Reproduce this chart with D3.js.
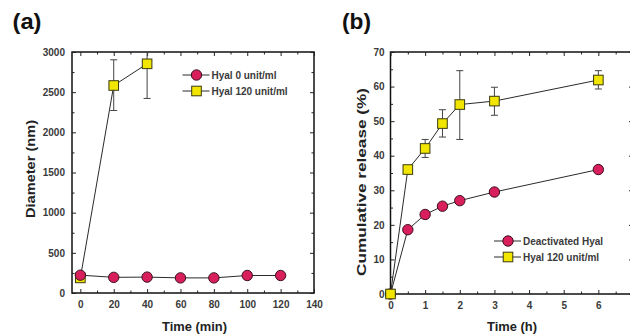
<!DOCTYPE html>
<html><head><meta charset="utf-8">
<script src="https://cdn.jsdelivr.net/npm/d3@7"></script>
<style>body{margin:0;background:#fff}svg{display:block}text{font-family:"Liberation Sans",Arial,sans-serif}</style>
</head><body><div id="c"></div>
<script>
// Panel (a)
const timeMin = [0, 20, 40, 60, 80, 100, 120];
const hyal0 = [222, 195, 198, 188, 188, 218, 218];
const timeMin120 = [0, 20, 40];
const hyal120 = [188, 2583, 2853];
const hyal120Lo = [188, 2272, 2422];
const hyal120Hi = [188, 2903, 3300];
const xTicksA = [0, 20, 40, 60, 80, 100, 120, 140];
const yTicksA = [0, 500, 1000, 1500, 2000, 2500, 3000];
// Panel (b)
const timeH = [0, 0.5, 1, 1.5, 2, 3, 6];
const deact = [0, 18.6, 23, 25.4, 27, 29.5, 36];
const rel120 = [0, 36, 42.1, 49.3, 54.8, 55.8, 61.9];
const rel120Lo = [0, 35, 39.5, 45.4, 44.7, 51.7, 59.3];
const rel120Hi = [0, 37.2, 44.7, 53.3, 64.6, 59.8, 64.6];
const xTicksB = [0, 1, 2, 3, 4, 5, 6];
const yTicksB = [0, 10, 20, 30, 40, 50, 60, 70];

const W = 630, H = 335;
const svg = d3.select("#c").append("svg").attr("width", W).attr("height", H);
const RED = "#d81e5b", YEL = "#f2e600", STK = "#2a2a2a", LBL = "#3a3a3a";

function panel(o) {
  const g = svg.append("g");
  const x = d3.scaleLinear().domain(o.xd).range(o.xr);
  const y = d3.scaleLinear().domain(o.yd).range(o.yr);
  const id = "clip" + o.name;
  svg.append("clipPath").attr("id", id).append("rect")
    .attr("x", o.xr[0]).attr("y", o.yr[1]).attr("width", o.xr[1] - o.xr[0]).attr("height", o.yr[0] - o.yr[1]);
  g.append("rect").attr("x", o.xr[0]).attr("y", o.yr[1]).attr("width", o.xr[1] - o.xr[0]).attr("height", o.yr[0] - o.yr[1])
    .attr("fill", "none").attr("stroke", "#111").attr("stroke-width", 1.5);
  const ax = (gen, tr) => g.append("g").attr("transform", tr).call(gen).call(s => {
    s.select(".domain").remove();
    s.selectAll("text").attr("fill", LBL).style("font-weight", "bold").style("font-size", "10px");
    s.selectAll("line").attr("stroke", "#222");
  });
  ax(d3.axisBottom(x).tickValues(o.xt).tickSizeInner(-4).tickSizeOuter(0).tickPadding(8).tickFormat(d3.format("d")), `translate(0,${o.yr[0]})`);
  ax(d3.axisBottom(x).tickValues(o.xm).tickSizeInner(-2.5).tickSizeOuter(0).tickFormat(""), `translate(0,${o.yr[0]})`);
  ax(d3.axisTop(x).tickValues(o.xt).tickSizeInner(-4).tickSizeOuter(0).tickFormat(""), `translate(0,${o.yr[1]})`);
  ax(d3.axisTop(x).tickValues(o.xm).tickSizeInner(-2.5).tickSizeOuter(0).tickFormat(""), `translate(0,${o.yr[1]})`);
  ax(d3.axisLeft(y).tickValues(o.yt).tickSizeInner(-4).tickSizeOuter(0).tickPadding(o.yPad).tickFormat(d3.format("d")), `translate(${o.xr[0]},0)`);
  ax(d3.axisLeft(y).tickValues(o.ym).tickSizeInner(-2.5).tickSizeOuter(0).tickFormat(""), `translate(${o.xr[0]},0)`);
  ax(d3.axisRight(y).tickValues(o.yt).tickSizeInner(-4).tickSizeOuter(0).tickFormat(""), `translate(${o.xr[1]},0)`);
  ax(d3.axisRight(y).tickValues(o.ym).tickSizeInner(-2.5).tickSizeOuter(0).tickFormat(""), `translate(${o.xr[1]},0)`);

  const data = g.append("g").attr("clip-path", `url(#${id})`);
  const line = d3.line().x(d => x(d[0])).y(d => y(d[1]));
  o.series.forEach(s => {
    const pts = s.x.map((v, i) => [v, s.y[i]]);
    data.append("path").attr("d", line(pts)).attr("fill", "none").attr("stroke", STK).attr("stroke-width", 1);
    if (s.lo) {
      s.x.forEach((v, i) => {
        if (s.hi[i] - s.lo[i] < 1e-9) return;
        const cx = x(v);
        data.append("line").attr("x1", cx).attr("x2", cx).attr("y1", y(s.lo[i])).attr("y2", y(s.hi[i])).attr("stroke", "#444").attr("stroke-width", 1);
        [s.lo[i], s.hi[i]].forEach(e => data.append("line").attr("x1", cx - 3.5).attr("x2", cx + 3.5).attr("y1", y(e)).attr("y2", y(e)).attr("stroke", "#444").attr("stroke-width", 1));
      });
    }
  });
  o.series.forEach(s => {
    s.x.forEach((v, i) => drawMarker(g, s.shape, x(v), y(s.y[i])));
  });
  o.legend.forEach((l, i) => {
    const ly = o.legY + i * 16;
    g.append("line").attr("x1", o.legX - 14).attr("x2", o.legX + 13).attr("y1", ly).attr("y2", ly).attr("stroke", STK).attr("stroke-width", 1);
    drawMarker(g, l.shape, o.legX, ly);
    g.append("text").attr("x", o.legX + 15).attr("y", ly + 3.5).text(l.label)
      .attr("fill", LBL).style("font-weight", "bold").style("font-size", "10px");
  });
  g.append("text").attr("x", o.xlabX).attr("y", 331).attr("text-anchor", "middle")
    .attr("textLength", o.xlabLen).attr("lengthAdjust", "spacingAndGlyphs")
    .text(o.xlab).attr("fill", "#222").style("font-weight", "bold").style("font-size", "13px");
  g.append("text").attr("transform", `translate(${o.ylabX},${o.ylabY}) rotate(-90)`).attr("text-anchor", "middle")
    .attr("textLength", o.ylabLen).attr("lengthAdjust", "spacingAndGlyphs")
    .text(o.ylab).attr("fill", "#222").style("font-weight", "bold").style("font-size", "13px");
  g.append("text").attr("x", o.pX).attr("y", 29).text(o.pl)
    .attr("textLength", 29).attr("lengthAdjust", "spacingAndGlyphs")
    .attr("fill", "#111").style("font-weight", "bold").style("font-size", "22px");
}

function drawMarker(g, shape, cx, cy) {
  if (shape === "c") {
    g.append("circle").attr("cx", cx).attr("cy", cy).attr("r", 5.2).attr("fill", RED).attr("stroke", "#3a1020").attr("stroke-width", 1);
  } else {
    g.append("rect").attr("x", cx - 4.8).attr("y", cy - 4.8).attr("width", 9.6).attr("height", 9.6).attr("fill", YEL).attr("stroke", "#3a3a10").attr("stroke-width", 1);
  }
}

panel({
  name: "a", xd: [-5, 140], xr: [72, 314], yd: [0, 3000], yr: [293, 52],
  xt: xTicksA, xm: d3.range(10, 140, 20), yt: yTicksA, ym: d3.range(250, 3000, 500), yPad: 7,
  series: [
    { x: timeMin120, y: hyal120, lo: hyal120Lo, hi: hyal120Hi, shape: "s" },
    { x: timeMin, y: hyal0, shape: "c" }
  ],
  legend: [{ shape: "c", label: "Hyal 0 unit/ml" }, { shape: "s", label: "Hyal 120 unit/ml" }],
  legX: 196.5, legY: 75,
  xlab: "Time (min)", xlabX: 194.5, xlabLen: 65,
  ylab: "Diameter (nm)", ylabX: 35, ylabY: 169, ylabLen: 98,
  pX: 12.5, pl: "(a)"
});
panel({
  name: "b", xd: [0, 7], xr: [390.5, 633], yd: [0, 70], yr: [294, 52],
  xt: xTicksB, xm: d3.range(0.5, 7, 1), yt: yTicksB, ym: d3.range(5, 70, 10), yPad: 6,
  series: [
    { x: timeH, y: deact, shape: "c" },
    { x: timeH, y: rel120, lo: rel120Lo, hi: rel120Hi, shape: "s" }
  ],
  legend: [{ shape: "c", label: "Deactivated Hyal" }, { shape: "s", label: "Hyal 120 unit/ml" }],
  legX: 508, legY: 241,
  xlab: "Time (h)", xlabX: 512, xlabLen: 50,
  ylab: "Cumulative release (%)", ylabX: 366, ylabY: 182, ylabLen: 188,
  pX: 342, pl: "(b)"
});
</script></body></html>
